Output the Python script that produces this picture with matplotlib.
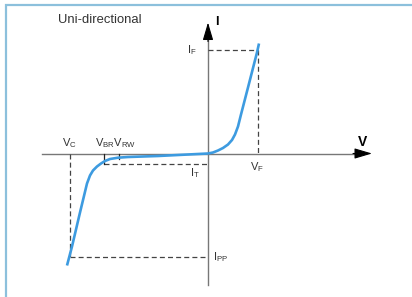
import matplotlib
matplotlib.use('Agg')
import matplotlib.pyplot as plt
from matplotlib.patches import Rectangle

plt.rcParams['font.family'] = ['Liberation Sans', 'DejaVu Sans']

# I-V curve of a uni-directional TVS diode (schematic units)
v_fwd = [0.0, 0.5, 1.0, 1.5, 2.0, 2.4, 2.7, 3.0, 3.3, 4.0, 4.9, 5.1]
i_fwd = [0.0, 0.1, 0.3, 0.55, 0.9, 1.35, 1.9, 2.7, 3.9, 6.6, 10.1, 11.0]
v_rev = [0.0, -2.0, -5.0, -8.0, -9.0, -9.8, -10.3, -10.7, -11.1, -11.5, -11.8,
         -12.1, -12.8, -13.6, -14.1]
i_rev = [0.0, -0.1, -0.25, -0.35, -0.42, -0.55, -0.75, -1.0, -1.3, -1.7, -2.2,
         -3.0, -5.9, -9.3, -11.2]

# characteristic points
VF, IF = 5.0, 10.4
VC, IPP = -13.8, -10.35
VBR, VRW, IT = -10.4, -8.9, -1.05

blue = '#3d9be0'
dash = '#444444'

fig = plt.figure(figsize=(4.12, 2.97), dpi=100)
ax = fig.add_axes([0, 0, 1, 1])
ax.set_xlim(-20.8, 20.4)
ax.set_ylim(-14.35, 15.35)
ax.axis('off')

# frame: right and bottom edges fall outside the figure
x0, y1 = 5.5 / 412, 1 - 4.5 / 297
ax.add_patch(Rectangle((x0, -0.2), 1.5, y1 + 0.2, transform=ax.transAxes,
                       fill=False, edgecolor='#8cc0dc', lw=1.6, clip_on=True))

# axes
ax.plot([-16.6, 15.0], [0, 0], color='#777777', lw=1.0)
ax.plot([0, 0], [-13.15, 11.8], color='#777777', lw=1.0)
arrow = dict(arrowstyle='-|>,head_length=1.08,head_width=0.32', color='black',
             lw=0.8, shrinkA=0, shrinkB=0, mutation_scale=10)
ax.annotate('', xy=(16.4, 0), xytext=(14.5, 0), arrowprops=arrow)
ax.annotate('', xy=(0, 13.1), xytext=(0, 11.2), arrowprops=arrow)

# dashed guides
dkw = dict(color=dash, lw=0.9, ls=(0, (4, 2.5)))
ax.plot([0, VF], [IF, IF], **dkw)
ax.plot([VF, VF], [IF, 0], **dkw)
ax.plot([VC, VC], [0, IPP], **dkw)
ax.plot([VC, 0], [IPP, IPP], **dkw)
ax.plot([VBR, 0], [IT, IT], **dkw)
ax.plot([VBR, VBR], [0, IT], color='#222222', lw=0.9)
ax.plot([VRW, VRW], [0, -0.5], color='#222222', lw=0.9)

# curve
ax.plot(v_fwd, i_fwd, color=blue, lw=1.9, solid_capstyle='butt', solid_joinstyle='round')
ax.plot(v_rev, i_rev, color=blue, lw=1.9, solid_capstyle='butt', solid_joinstyle='round')

# labels
tc = '#333333'
fs = 8
ax.text(-15.0, 13.35, 'Uni-directional', fontsize=9.4, color=tc, ha='left', va='center')
ax.text(0.9, 13.15, 'I', fontsize=9, fontweight='bold', color='black', ha='center', va='center')
ax.text(15.5, 1.15, 'V', fontsize=10, fontweight='bold', color='black', ha='center', va='center')
ax.text(-1.1, 10.35, r'$\mathregular{I_F}$', fontsize=fs, color=tc, ha='right', va='center')
ax.text(4.85, -1.35, r'$\mathregular{V_F}$', fontsize=fs, color=tc, ha='center', va='center')
ax.text(-1.3, -1.95, r'$\mathregular{I_T}$', fontsize=fs, color=tc, ha='center', va='center')
ax.text(0.5, -10.4, r'$\mathregular{I_{PP}}$', fontsize=fs, color=tc, ha='left', va='center')
ax.text(-13.9, 1.05, r'$\mathregular{V_C}$', fontsize=fs, color=tc, ha='center', va='center')
ax.text(-11.3, 1.05, r'$\mathregular{V_{BR}V_{RW}}$', fontsize=fs, color=tc, ha='left', va='center')

fig.savefig('out.png', dpi=100)
